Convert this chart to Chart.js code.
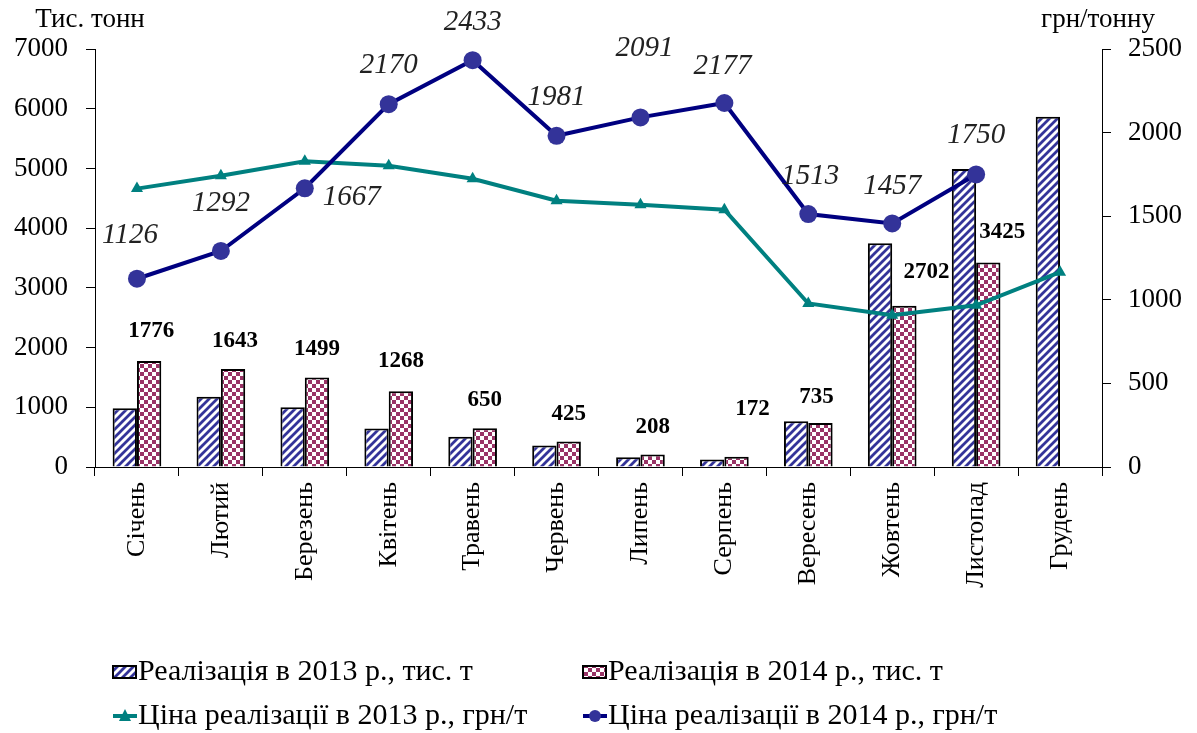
<!DOCTYPE html>
<html>
<head>
<meta charset="utf-8">
<script src="https://cdn.jsdelivr.net/npm/chart.js@4"></script>
<style>
  body { margin: 0; background: #fff; }
</style>
</head>
<body>
<canvas id="chart" width="1197" height="733"></canvas>
<script>
// категорії та значення
const months = ["Січень", "Лютий", "Березень", "Квітень", "Травень", "Червень",
    "Липень", "Серпень", "Вересень", "Жовтень", "Листопад", "Грудень"];
const sales2013 = [985, 1175, 1000, 645, 505, 360, 165, 125, 765, 3745, 4990, 5865];
const sales2014 = [1776, 1643, 1499, 1268, 650, 425, 208, 172, 735, 2702, 3425, null];
const price2013 = [1665, 1742, 1828, 1802, 1724, 1593, 1569, 1539, 978, 908, 967, 1165];
const price2014 = [1126, 1292, 1667, 2170, 2433, 1981, 2091, 2177, 1513, 1457, 1750, null];
const leftTicks = [0, 1000, 2000, 3000, 4000, 5000, 6000, 7000];
const rightTicks = [0, 500, 1000, 1500, 2000, 2500];

// зсуви підписів (dx, dy від точки)
const barLabelShift = [[2, -30], [2, -28], [0, -28], [0, -30], [0, -28], [0, -28],
    [0, -28], [16, -48], [-4, -26], [22, -34], [14, -30], [0, 0]];
const lineLabelShift = [[-7, -43], [0, -48], [47, 9], [0, -39], [0, -38], [0, -38],
    [4, -69], [-2, -37], [2, -38], [0, -37], [0, -39], [0, 0]];

const serif = "'Liberation Serif', 'Times New Roman', serif";

function stripePattern() {
    let c = document.createElement("canvas");
    c.width = 8; c.height = 8;
    let g = c.getContext("2d");
    g.fillStyle = "#fff";
    g.fillRect(0, 0, 8, 8);
    g.strokeStyle = "#333399";
    g.lineWidth = 2.8;
    g.beginPath();
    g.moveTo(-2, 10); g.lineTo(10, -2);
    g.moveTo(-6, 6); g.lineTo(6, -6);
    g.moveTo(2, 14); g.lineTo(14, 2);
    g.stroke();
    return g.createPattern(c, "repeat");
}

function checkPattern() {
    let c = document.createElement("canvas");
    c.width = 8; c.height = 8;
    let g = c.getContext("2d");
    g.fillStyle = "#fff";
    g.fillRect(0, 0, 8, 8);
    g.fillStyle = "#993366";
    g.fillRect(0, 0, 4, 4);
    g.fillRect(4, 4, 4, 4);
    return g.createPattern(c, "repeat");
}

const stripes = stripePattern();
const checks = checkPattern();

// підписи значень
const labelsPlugin = {
    id: "labels",
    afterDatasetsDraw(chart) {
        let ctx = chart.ctx;
        ctx.save();
        ctx.textAlign = "center";
        ctx.textBaseline = "middle";
        ctx.fillStyle = "#000";
        ctx.font = "bold 23px " + serif;
        chart.getDatasetMeta(1).data.forEach(function(el, i) {
            if (sales2014[i] == null) return;
            ctx.fillText(sales2014[i], el.x + barLabelShift[i][0], el.y + barLabelShift[i][1]);
        });
        ctx.font = "italic 29px " + serif;
        ctx.fillStyle = "#222";
        chart.getDatasetMeta(3).data.forEach(function(el, i) {
            if (price2014[i] == null) return;
            ctx.fillText(price2014[i], el.x + lineLabelShift[i][0], el.y + lineLabelShift[i][1]);
        });
        // назви осей
        ctx.font = "27px " + serif;
        ctx.fillStyle = "#000";
        ctx.fillText("Тис. тонн", 90, 20);
        ctx.fillText("грн/тонну", 1098, 20);
        ctx.restore();
    }
};

// легенда знизу
const legendPlugin = {
    id: "bottomLegend",
    afterDraw(chart) {
        let ctx = chart.ctx;
        ctx.save();
        ctx.font = "30px " + serif;
        ctx.textBaseline = "middle";
        ctx.textAlign = "left";
        ctx.fillStyle = "#000";
        let rows = [672, 716];
        let cols = [113, 583];
        // бари
        [[stripes, "Реалізація в 2013 р., тис. т"], [checks, "Реалізація в 2014 р., тис. т"]].forEach(function(it, k) {
            let x = cols[k], y = rows[0];
            ctx.fillStyle = it[0];
            ctx.fillRect(x, y - 6, 23, 12);
            ctx.strokeStyle = "#000";
            ctx.lineWidth = 2;
            ctx.strokeRect(x, y - 6, 23, 12);
            ctx.fillStyle = "#000";
            ctx.fillText(it[1], x + 25, y);
        });
        // лінії
        [["#008080", "Ціна реалізації в 2013 р., грн/т", "tri"], ["#000080", "Ціна реалізації в 2014 р., грн/т", "dot"]].forEach(function(it, k) {
            let x = cols[k], y = rows[1];
            ctx.strokeStyle = it[0];
            ctx.lineWidth = 4;
            ctx.beginPath();
            ctx.moveTo(x, y); ctx.lineTo(x + 24, y);
            ctx.stroke();
            if (it[2] == "tri") {
                ctx.fillStyle = "#008080";
                ctx.beginPath();
                ctx.moveTo(x + 12, y - 7); ctx.lineTo(x + 18, y + 5); ctx.lineTo(x + 6, y + 5);
                ctx.closePath(); ctx.fill();
            } else {
                ctx.fillStyle = "#333399";
                ctx.beginPath();
                ctx.arc(x + 12, y, 6, 0, Math.PI * 2);
                ctx.fill();
            }
            ctx.fillStyle = "#000";
            ctx.fillText(it[1], x + 25, y);
        });
        ctx.restore();
    }
};

let config = {
    type: "bar",
    data: {
        labels: months,
        datasets: [{
            label: "Реалізація в 2013 р., тис. т",
            data: sales2013,
            backgroundColor: stripes,
            borderColor: "#000",
            borderWidth: 2,
            yAxisID: "y",
            order: 2,
            categoryPercentage: 0.58,
            barPercentage: 1.0
        }, {
            label: "Реалізація в 2014 р., тис. т",
            data: sales2014,
            backgroundColor: checks,
            borderColor: "#000",
            borderWidth: 2,
            yAxisID: "y",
            order: 2,
            categoryPercentage: 0.58,
            barPercentage: 1.0
        }, {
            type: "line",
            label: "Ціна реалізації в 2013 р., грн/т",
            data: price2013,
            borderColor: "#008080",
            backgroundColor: "#008080",
            borderWidth: 4,
            pointStyle: "triangle",
            pointRadius: 7,
            pointBorderWidth: 0,
            tension: 0,
            yAxisID: "y1",
            order: 1
        }, {
            type: "line",
            label: "Ціна реалізації в 2014 р., грн/т",
            data: price2014,
            borderColor: "#000080",
            backgroundColor: "#333399",
            borderWidth: 4,
            pointStyle: "circle",
            pointRadius: 9,
            pointBorderWidth: 0,
            tension: 0,
            yAxisID: "y1",
            order: 0
        }]
    },
    options: {
        responsive: false,
        animation: false,
        layout: { padding: { top: 49, left: 0, right: 0, bottom: 0 } },
        plugins: {
            legend: { display: false },
            tooltip: { enabled: false }
        },
        scales: {
            x: {
                offset: true,
                grid: { offset: true, drawOnChartArea: false, tickLength: 9, color: "#000" },
                border: { color: "#000", width: 1 },
                ticks: { color: "#000", font: { family: serif, size: 26 }, minRotation: 90, maxRotation: 90, padding: 6 },
                afterFit: function(s) { s.height = 733 - 467; }
            },
            y: {
                position: "left",
                min: 0, max: 7000,
                afterBuildTicks: function(s) { s.ticks = leftTicks.map(v => ({ value: v })); },
                grid: { drawOnChartArea: false, tickLength: 9, color: "#000" },
                border: { color: "#000", width: 1 },
                ticks: { color: "#000", font: { family: serif, size: 27 }, padding: 18, callback: v => String(v) },
                afterFit: function(s) { s.width = 95; }
            },
            y1: {
                position: "right",
                min: 0, max: 2500,
                afterBuildTicks: function(s) { s.ticks = rightTicks.map(v => ({ value: v })); },
                grid: { drawOnChartArea: false, tickLength: 9, color: "#000" },
                border: { color: "#000", width: 1 },
                ticks: { color: "#000", font: { family: serif, size: 27 }, padding: 17, callback: v => String(v) },
                afterFit: function(s) { s.width = 95; }
            }
        }
    },
    plugins: [labelsPlugin, legendPlugin]
};

window.addEventListener("load", function() {
    let ctx = document.getElementById("chart").getContext("2d");
    myChart = new Chart(ctx, config);
}, false);
</script>
</body>
</html>
